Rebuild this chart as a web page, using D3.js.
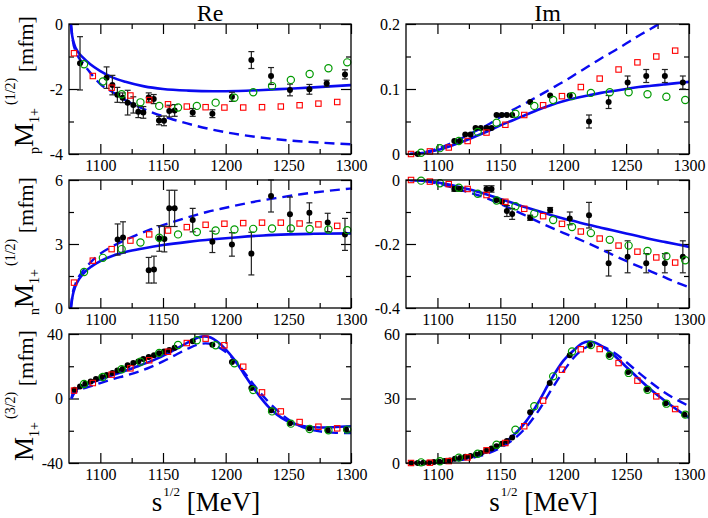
<!DOCTYPE html>
<html><head><meta charset="utf-8">
<script src="https://cdn.jsdelivr.net/npm/d3@7"></script>
<style>
body{margin:0;background:#fff}
svg{display:block}
svg text{font-family:"Liberation Serif","Times New Roman",Times,serif !important;fill:#000}
</style>
</head><body>
<svg id="chart" width="708" height="518"></svg>
<script>
// ---------- shared energies (MeV) ----------
const xMajor = [1100,1150,1200,1250,1300];
const xMinor = [1125,1175,1225,1275];
const redE   = [1079,1094,1109,1124,1139,1154,1169,1184,1199,1214,1229,1244,1259,1274,1289];
const greenE = [1087,1102,1117,1132,1147,1162,1177,1192,1207,1222,1237,1252,1267,1282,1297];
const gridE  = [1078,1090,1100,1110,1120,1130,1140,1150,1160,1170,1180,1190,1200,1210,1220,1230,1240,1250,1260,1270,1280,1290,1300];

// ---------- M1+ p (1/2) Re ----------
const pReBlackE = [1083.8,1105,1109.6,1113.6,1117.8,1121.8,1126.3,1130.3,1134.3,1138.6,1142.6,1146.8,1150.8,1155,1159.3,1173.7,1189.4,1205,1220.5,1236.2,1251.3,1266.8,1280.6,1295.2];
const pReBlackV = [-1.21,-1.65,-1.88,-2.18,-2.27,-2.42,-2.49,-2.70,-2.72,-2.26,-2.31,-2.97,-2.98,-2.68,-2.66,-2.72,-2.76,-2.24,-1.11,-1.60,-2.03,-2.01,-1.83,-1.55];
const pReBlackErr = [0.82,0.33,0.30,0.23,0.15,0.38,0.25,0.18,0.18,0.14,0.14,0.13,0.15,0.18,0.18,0.12,0.12,0.14,0.26,0.26,0.18,0.15,0.10,0.14];
const pReRedV   = [-0.90,-1.60,-1.96,-2.20,-2.34,-2.47,-2.54,-2.56,-2.57,-2.57,-2.56,-2.54,-2.50,-2.45,-2.40];
const pReGreenV = [-1.24,-1.77,-2.16,-2.41,-2.52,-2.57,-2.52,-2.42,-2.27,-2.10,-1.91,-1.72,-1.54,-1.36,-1.18];
const pReSolidE = [1076.5,1077.5,1079,1082,1086,1092,1100,1110,1120,1135,1150,1170,1190,1210,1230,1250,1270,1300];
const pReSolidV = [0,-0.35,-0.6,-0.85,-1.03,-1.24,-1.45,-1.65,-1.78,-1.92,-2.0,-2.05,-2.07,-2.06,-2.03,-1.99,-1.95,-1.88];
const pReDashE  = [1076.5,1078,1081,1086,1092,1100,1110,1125,1140,1155,1175,1200,1225,1250,1275,1300];
const pReDashV  = [0,-0.5,-0.9,-1.2,-1.5,-1.85,-2.1,-2.45,-2.7,-2.9,-3.12,-3.33,-3.48,-3.58,-3.65,-3.7];

// ---------- M1+ p (1/2) Im ----------
const pImBlackE = [1084.3,1113.4,1117.9,1122.1,1126.3,1130.3,1134.5,1139,1143,1147,1151.2,1155.2,1159.4,1173.7,1189.6,1205.2,1220.5,1236.1,1251.2,1266,1280.8,1295.1];
const pImBlackV = [0,0.02,0.02,0.03,0.03,0.04,0.04,0.04,0.04,0.06,0.06,0.06,0.06,0.08,0.09,0.09,0.05,0.08,0.11,0.12,0.12,0.11];
const pImBlackErr = [0,0,0,0,0,0,0,0,0,0,0,0,0,0,0,0,0.01,0.01,0.01,0.01,0.01,0.01];
const pImRedV   = [0,0.004,0.010,0.020,0.033,0.045,0.060,0.075,0.089,0.103,0.116,0.130,0.141,0.150,0.159];
const pImGreenV = [0.002,0.009,0.020,0.034,0.048,0.062,0.074,0.083,0.089,0.094,0.095,0.095,0.092,0.088,0.083];
const pImSolidV = [0,0.002,0.006,0.012,0.019,0.027,0.035,0.044,0.052,0.060,0.068,0.075,0.081,0.086,0.090,0.094,0.097,0.100,0.103,0.105,0.107,0.109,0.111];
const pImDashV  = [0,0.003,0.008,0.016,0.025,0.035,0.045,0.057,0.068,0.078,0.089,0.100,0.111,0.123,0.135,0.147,0.158,0.170,0.182,0.193,0.205,0.216,0.228];

// ---------- M1+ n (1/2) Re ----------
const nReBlackE = [1113.8,1118.1,1138.6,1142.8,1147.1,1151.1,1155,1159.3,1173.7,1189.4,1205,1220.5,1236.2,1251.3,1266.8,1281.4,1295.2];
const nReBlackV = [3.21,3.31,1.77,1.80,3.26,3.23,4.67,4.67,4.12,3.10,2.98,2.55,5.25,4.40,4.46,4.01,3.45];
const nReBlackErr = [0.73,0.73,0.60,0.63,0.60,0.60,0.85,0.85,0.55,0.50,0.55,1.0,0.75,0.80,0.47,0.43,0.75];
const nReRedV   = [1.19,2.22,2.76,3.16,3.45,3.63,3.79,3.90,3.95,3.98,4.00,4.00,3.96,3.92,3.85];
const nReGreenV = [1.69,2.35,2.76,3.07,3.29,3.45,3.56,3.63,3.68,3.71,3.73,3.73,3.70,3.68,3.65];
const nReSolidE = [1076.5,1078,1080,1083,1087,1093,1100,1110,1120,1135,1150,1170,1190,1210,1230,1250,1270,1300];
const nReSolidV = [0,0.6,1.0,1.35,1.65,1.95,2.2,2.45,2.62,2.8,2.95,3.1,3.22,3.32,3.4,3.45,3.48,3.5];
const nReDashE  = [1076.5,1078,1080,1085,1090,1095,1100,1110,1125,1140,1155,1170,1185,1200,1220,1240,1260,1280,1300];
const nReDashV  = [0,0.7,1.1,1.65,2.0,2.3,2.55,2.9,3.32,3.68,3.98,4.25,4.5,4.7,4.95,5.15,5.33,5.48,5.6];

// ---------- M1+ n (1/2) Im ----------
const nImBlackE = [1113.4,1117.9,1139,1143,1147,1151.2,1155.2,1159.4,1173.7,1189.6,1205.2,1220.5,1236.1,1251.2,1266,1280.8,1295.1];
const nImBlackV = [-0.028,-0.028,-0.028,-0.028,-0.0625,-0.068,-0.097,-0.106,-0.118,-0.094,-0.12,-0.11,-0.26,-0.24,-0.26,-0.26,-0.24];
const nImBlackErr = [0.007,0.007,0.01,0.01,0,0,0.017,0.017,0.008,0.008,0.02,0.04,0.04,0.05,0.03,0.03,0.05];
const nImRedV   = [0,-0.005,-0.013,-0.028,-0.047,-0.068,-0.090,-0.113,-0.137,-0.161,-0.183,-0.205,-0.224,-0.242,-0.258];
const nImGreenV = [-0.002,-0.010,-0.024,-0.043,-0.064,-0.082,-0.105,-0.125,-0.147,-0.166,-0.187,-0.205,-0.222,-0.238,-0.251];
const nImSolidV = [0,-0.003,-0.008,-0.015,-0.024,-0.034,-0.046,-0.059,-0.072,-0.085,-0.097,-0.109,-0.120,-0.130,-0.140,-0.149,-0.158,-0.167,-0.176,-0.185,-0.193,-0.201,-0.209];
const nImDashV  = [0,-0.004,-0.011,-0.021,-0.033,-0.045,-0.058,-0.075,-0.093,-0.111,-0.130,-0.148,-0.165,-0.181,-0.198,-0.216,-0.235,-0.253,-0.270,-0.286,-0.303,-0.320,-0.335];

// ---------- M1+ (3/2) Re ----------
const dReBlackE = [1079.5,1083.8,1088,1092.3,1096.5,1100.8,1105,1109.6,1113.6,1117.8,1121.8,1126.3,1130.3,1134.3,1138.6,1142.8,1146.8,1150.8,1155,1159.3,1173.7,1189.4,1205,1220.5,1236.2,1251.3,1266.8,1281.4,1296];
const dReBlackV = [5.5,7.5,9.2,10.6,12.1,13.3,14.6,15.8,17.3,18.3,20.6,22.0,23.0,24.5,25.7,26.8,28.0,29.2,30.1,31.5,35.5,33.4,22.6,6.5,-7.3,-15.4,-18.5,-19.7,-19.3];
const dReRedV   = [4.9,9.6,14.8,18.7,23.7,29.0,34.4,37.1,33.0,19.7,3.8,-8.0,-14.6,-17.5,-18.5];
const dReGreenV = [9.0,13.3,18.1,22.8,28.2,33.2,36.1,33.0,21.8,5.3,-8.0,-15.6,-18.9,-19.7,-19.3];
const dReSolidE = [1077,1078,1080,1085,1090,1100,1110,1120,1130,1140,1150,1160,1170,1178,1183,1188,1193,1200,1207,1214,1220,1227,1234,1241,1248,1256,1265,1275,1285,1300];
const dReSolidV = [0,3,5,7.3,9,11.8,14.5,17.2,20.0,23.0,26.4,30.5,34.8,37.8,38.5,37.8,35.5,30.5,24,16,9,1.5,-5,-10,-13.5,-16,-17.5,-18,-17.8,-17.2];
const dReDashE  = [1077,1079,1082,1090,1100,1110,1120,1130,1140,1150,1160,1170,1178,1184,1190,1196,1203,1210,1218,1226,1234,1242,1250,1258,1266,1276,1288,1300];
const dReDashV  = [0,3,4.8,7,9.6,12,14.2,16.5,19.5,23,27,31,33.5,34.2,33.5,31,27,21,13,5,-2,-8,-13,-16.5,-19,-20.5,-21.3,-21.5];

// ---------- M1+ (3/2) Im ----------
const dImBlackE = [1079.5,1084.3,1088.8,1093,1097.2,1101.5,1105.7,1110,1113.9,1118.1,1122.1,1126.3,1130.6,1134.5,1138.8,1143,1147,1151.2,1155.2,1159.4,1173.7,1189.3,1205.2,1221,1236.4,1251.5,1266.5,1281.3,1296.4];
const dImBlackV = [0,0,0.15,0.15,0.5,0.6,0.9,1.2,2.0,2.3,2.9,3.3,3.9,4.7,5.7,6.7,7.8,9.0,10.2,11.9,23.6,37.2,50.1,54.9,50.2,42.3,34.3,27.8,22.5];
const dImRedV   = [0,0.15,0.9,2.6,5.9,9.3,17.1,29.0,43.4,52.9,53.0,46.5,38.3,31.0,25.1];
const dImGreenV = [0.3,0.8,2.5,4.3,8.5,15.5,26.4,40.3,51.9,54.9,49.9,41.9,34.1,27.6,22.5];
const dImSolidE = [1078,1090,1100,1110,1120,1130,1140,1150,1160,1170,1180,1190,1200,1210,1215,1220,1225,1230,1240,1250,1260,1270,1280,1290,1300];
const dImSolidV = [0,0.2,0.5,1.1,2.0,3.4,5.3,8.2,12.6,19,28,38.5,47.5,53.3,55.6,56.5,56.0,54.6,50.2,44.8,39.2,34.0,29.3,25.0,21.0];
const dImDashE  = [1078,1090,1100,1110,1120,1130,1140,1150,1160,1170,1180,1190,1200,1210,1220,1226,1232,1240,1250,1260,1270,1280,1290,1300];
const dImDashV  = [0,0.1,0.3,0.8,1.5,2.7,4.4,7,10.8,16.3,24,33.5,42.5,50,54.3,55,54,51.5,47,42,37.3,33,29.5,26.5];

// ---------- axis labels ----------
const colTitles = ["Re","Im"];
const yTicks = {
  pRe:{major:[0,-2,-4],minor:[-1,-3],domain:[-4,0]},
  pIm:{major:[0,0.1,0.2],minor:[0.05,0.15],domain:[0,0.2]},
  nRe:{major:[0,3,6],minor:[1.5,4.5],domain:[0,6]},
  nIm:{major:[0,-0.2,-0.4],minor:[-0.1,-0.3],domain:[-0.4,0]},
  dRe:{major:[-40,0,40],minor:[-20,20],domain:[-40,40]},
  dIm:{major:[0,30,60],minor:[15,45],domain:[0,60]}
};
const yLabels = [{pre:"p",sup:"(1/2)"},{pre:"n",sup:"(1/2)"},{pre:"",sup:"(3/2)"}];

// ---------- layout ----------
const colX = [[69,351],[406,689]];
const rowY = [[24,154],[180,308],[334,463]];
const labelShift = [-4,2,-3];
const BLUE = "#0a0af0", GREEN = "#009a00", RED = "#ff0000";
const SERIF = "'Liberation Serif','Times New Roman',Times,serif";

const panels = [
  {c:0,r:0,t:yTicks.pRe,bE:pReBlackE,bV:pReBlackV,bErr:pReBlackErr,rV:pReRedV,gV:pReGreenV,sE:pReSolidE,sV:pReSolidV,dE:pReDashE,dV:pReDashV},
  {c:1,r:0,t:yTicks.pIm,bE:pImBlackE,bV:pImBlackV,bErr:pImBlackErr,rV:pImRedV,gV:pImGreenV,sE:gridE,sV:pImSolidV,dE:gridE,dV:pImDashV},
  {c:0,r:1,t:yTicks.nRe,bE:nReBlackE,bV:nReBlackV,bErr:nReBlackErr,rV:nReRedV,gV:nReGreenV,sE:nReSolidE,sV:nReSolidV,dE:nReDashE,dV:nReDashV},
  {c:1,r:1,t:yTicks.nIm,bE:nImBlackE,bV:nImBlackV,bErr:nImBlackErr,rV:nImRedV,gV:nImGreenV,sE:gridE,sV:nImSolidV,dE:gridE,dV:nImDashV},
  {c:0,r:2,t:yTicks.dRe,bE:dReBlackE,bV:dReBlackV,bErr:null,rV:dReRedV,gV:dReGreenV,sE:dReSolidE,sV:dReSolidV,dE:dReDashE,dV:dReDashV},
  {c:1,r:2,t:yTicks.dIm,bE:dImBlackE,bV:dImBlackV,bErr:null,rV:dImRedV,gV:dImGreenV,sE:dImSolidE,sV:dImSolidV,dE:dImDashE,dV:dImDashV}
];

const svg = d3.select("#chart").style("font-family",SERIF);
const FONT = 16;

panels.forEach((p,i)=>{
  const [x0,x1] = colX[p.c], [y0,y1] = rowY[p.r];
  const x = d3.scaleLinear().domain([1075,1300]).range([x0,x1]);
  const y = d3.scaleLinear().domain(p.t.domain).range([y1,y0]);
  const g = svg.append("g");

  const cid = "clip"+i;
  svg.append("clipPath").attr("id",cid).append("rect")
    .attr("x",x0).attr("y",y0).attr("width",x1-x0).attr("height",y1-y0);

  const styleAxis = (sel, labels)=>{
    sel.attr("font-family",null).attr("font-size",null);
    sel.select(".domain").remove();
    sel.selectAll(".tick line").attr("stroke","#000").attr("stroke-width",1.2);
    sel.selectAll(".tick text").style("font-family",SERIF).style("font-size",FONT+"px");
    if(!labels) sel.selectAll(".tick text").remove();
  };
  g.append("g").attr("transform",`translate(0,${y1})`)
    .call(d3.axisBottom(x).tickValues(xMajor).tickSize(-10).tickSizeOuter(0).tickPadding(6).tickFormat(d=>String(d)))
    .call(s=>styleAxis(s,true));
  g.append("g").attr("transform",`translate(0,${y1})`)
    .call(d3.axisBottom(x).tickValues(xMinor).tickSize(-5).tickSizeOuter(0).tickFormat(""))
    .call(s=>styleAxis(s,false));
  g.append("g").attr("transform",`translate(0,${y0})`)
    .call(d3.axisTop(x).tickValues(xMajor).tickSize(-10).tickSizeOuter(0).tickFormat(""))
    .call(s=>styleAxis(s,false));
  g.append("g").attr("transform",`translate(0,${y0})`)
    .call(d3.axisTop(x).tickValues(xMinor).tickSize(-5).tickSizeOuter(0).tickFormat(""))
    .call(s=>styleAxis(s,false));
  g.append("g").attr("transform",`translate(${x0},0)`)
    .call(d3.axisLeft(y).tickValues(p.t.major).tickSize(-10).tickSizeOuter(0).tickPadding(6).tickFormat(d=>String(d)))
    .call(s=>styleAxis(s,true));
  g.append("g").attr("transform",`translate(${x0},0)`)
    .call(d3.axisLeft(y).tickValues(p.t.minor).tickSize(-5).tickSizeOuter(0).tickFormat(""))
    .call(s=>styleAxis(s,false));
  g.append("g").attr("transform",`translate(${x1},0)`)
    .call(d3.axisRight(y).tickValues(p.t.major).tickSize(-10).tickSizeOuter(0).tickFormat(""))
    .call(s=>styleAxis(s,false));
  g.append("g").attr("transform",`translate(${x1},0)`)
    .call(d3.axisRight(y).tickValues(p.t.minor).tickSize(-5).tickSizeOuter(0).tickFormat(""))
    .call(s=>styleAxis(s,false));

  const plot = g.append("g").attr("clip-path",`url(#${cid})`);
  const line = d3.line().x(d=>x(d[0])).y(d=>y(d[1])).curve(d3.curveMonotoneX);
  plot.append("path").datum(d3.zip(p.dE,p.dV)).attr("d",line)
    .attr("fill","none").attr("stroke",BLUE).attr("stroke-width",2.4).attr("stroke-dasharray","10,6");
  plot.append("path").datum(d3.zip(p.sE,p.sV)).attr("d",line)
    .attr("fill","none").attr("stroke",BLUE).attr("stroke-width",2.6);

  const bl = d3.zip(p.bE,p.bV,p.bErr||p.bE.map(()=>0));
  const eb = g.append("g").attr("stroke","#222").attr("stroke-width",1.2);
  bl.filter(d=>d[2]>0).forEach(d=>{
    const xx = x(d[0]), ya = y(d[1]-d[2]), yb = y(d[1]+d[2]);
    eb.append("line").attr("x1",xx).attr("x2",xx).attr("y1",ya).attr("y2",yb);
    eb.append("line").attr("x1",xx-3).attr("x2",xx+3).attr("y1",ya).attr("y2",ya);
    eb.append("line").attr("x1",xx-3).attr("x2",xx+3).attr("y1",yb).attr("y2",yb);
  });
  g.append("g").selectAll("circle").data(bl).join("circle")
    .attr("cx",d=>x(d[0])).attr("cy",d=>y(d[1])).attr("r",3).attr("fill","#000");

  g.append("g").selectAll("rect").data(d3.zip(redE,p.rV)).join("rect")
    .attr("x",d=>x(d[0])-2.7).attr("y",d=>y(d[1])-2.7).attr("width",5.4).attr("height",5.4)
    .attr("fill","none").attr("stroke",RED).attr("stroke-width",1.1);
  g.append("g").selectAll("circle").data(d3.zip(greenE,p.gV)).join("circle")
    .attr("cx",d=>x(d[0])).attr("cy",d=>y(d[1])).attr("r",3.6)
    .attr("fill","none").attr("stroke",GREEN).attr("stroke-width",1.2);

  g.append("rect").attr("x",x0).attr("y",y0).attr("width",x1-x0).attr("height",y1-y0)
    .attr("fill","none").attr("stroke","#000").attr("stroke-width",1.3);
});

colTitles.forEach((t,c)=>{
  svg.append("text").attr("x",(colX[c][0]+colX[c][1])/2).attr("y",21)
    .attr("text-anchor","middle").style("font-family",SERIF).style("font-size","24px").text(t);
});

colX.forEach(([a,b])=>{
  const t = svg.append("text").attr("x",(a+b)/2-4).attr("y",511).attr("text-anchor","middle")
    .style("font-family",SERIF).style("font-size","27px");
  t.append("tspan").text("s");
  t.append("tspan").style("font-size","13px").attr("dy",-15).attr("dx",1).text("1/2");
  t.append("tspan").attr("dy",15).text(" [MeV]");
});

yLabels.forEach((l,r)=>{
  const cy = (rowY[r][0]+rowY[r][1])/2 + labelShift[r];
  const t = svg.append("text").attr("transform",`translate(33,${cy}) rotate(-90)`)
    .attr("text-anchor","middle").style("font-family",SERIF).style("font-size","22px");
  if(l.pre) t.append("tspan").style("font-size","14px").attr("dy",6).text(l.pre);
  t.append("tspan").style("font-size","27px").attr("dy",l.pre?-6:0).text("M");
  t.append("tspan").style("font-size","14px").attr("dy",6).text("1+");
  t.append("tspan").style("font-size","14px").attr("dy",-24).attr("dx",3).text(l.sup);
  t.append("tspan").attr("dy",18).text(" [mfm]");
});
</script>
</body></html>
